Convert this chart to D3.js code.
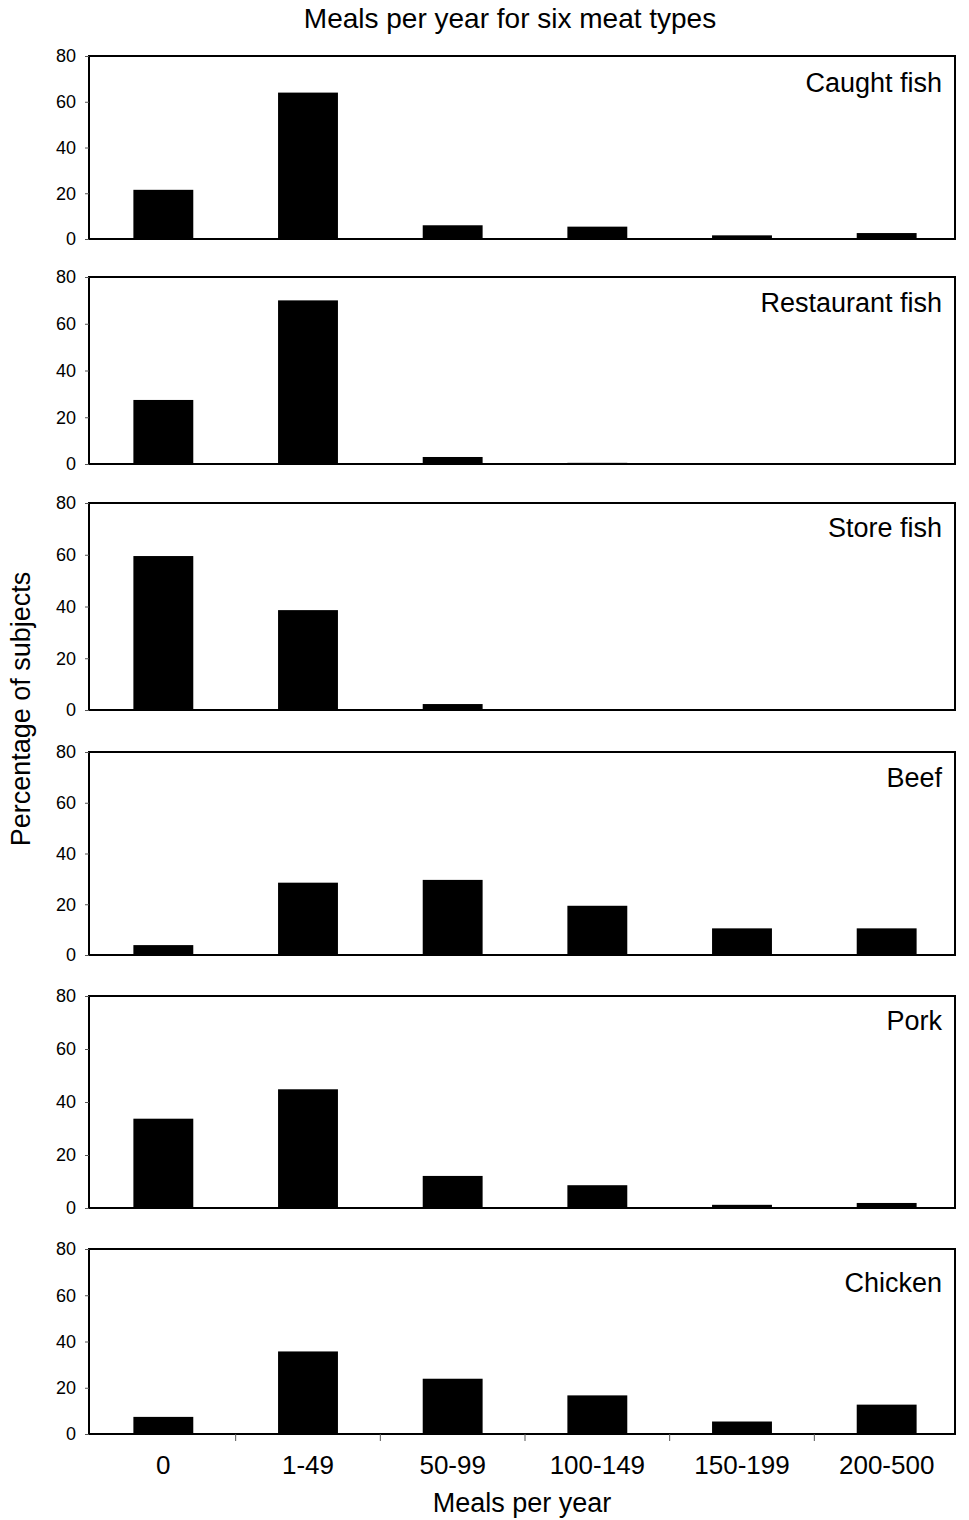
<!DOCTYPE html>
<html><head><meta charset="utf-8">
<script src="https://cdn.jsdelivr.net/npm/d3@7"></script>
<style>
body{margin:0;background:#fff}
svg{display:block}
text{font-family:"Liberation Sans",Arial,Helvetica,sans-serif;fill:#000}
</style>
</head><body>
<svg id="chart" width="969" height="1520"></svg>
<script>
// ---------- data ----------
const categories = ["0", "1-49", "50-99", "100-149", "150-199", "200-500"];
const panelNames = ["Caught fish", "Restaurant fish", "Store fish", "Beef", "Pork", "Chicken"];
const caughtFish     = [21.5, 64.0, 6.0, 5.4, 1.6, 2.6];
const restaurantFish = [27.4, 70.0, 3.0, 0.5, 0.4, 0.0];
const storeFish      = [59.5, 38.6, 2.3, 0.0, 0.0, 0.0];
const beef           = [3.9, 28.5, 29.6, 19.4, 10.5, 10.5];
const pork           = [33.7, 44.8, 12.1, 8.6, 1.2, 1.9];
const chicken        = [7.4, 35.7, 23.9, 16.7, 5.4, 12.7];
const yTicks = [0, 20, 40, 60, 80];
const seriesList = [caughtFish, restaurantFish, storeFish, beef, pork, chicken];

const titleText = "Meals per year for six meat types";
const xTitle = "Meals per year";
const yTitle = "Percentage of subjects";

// ---------- layout ----------
const panelTops    = [56, 277, 503, 752, 996, 1249];
const panelBottoms = [239, 464, 710, 955, 1208, 1434];
const labelOffsets = [36, 35, 34, 35, 34, 43];
const boxLeft = 89, boxRight = 955;

const svg = d3.select("#chart");

const x = d3.scaleBand()
  .domain(categories)
  .range([boxLeft + 2, boxRight + 4])
  .paddingInner(0.586)
  .paddingOuter(0.293);

svg.append("text")
  .attr("x", 510).attr("y", 28)
  .attr("text-anchor", "middle")
  .attr("font-size", 28)
  .text(titleText);

seriesList.forEach((vals, i) => {
  const top = panelTops[i], bottom = panelBottoms[i];
  const y = d3.scaleLinear().domain([0, 80]).range([bottom, top]);
  const g = svg.append("g");

  // bars
  g.selectAll("rect.bar")
    .data(vals.map((v, j) => ({c: categories[j], v})))
    .join("rect")
    .attr("class", "bar")
    .attr("x", d => x(d.c))
    .attr("width", x.bandwidth())
    .attr("y", d => y(d.v))
    .attr("height", d => y(0) - y(d.v))
    .attr("fill", "#000");

  // frame
  g.append("rect")
    .attr("x", boxLeft).attr("y", y(80))
    .attr("width", boxRight - boxLeft)
    .attr("height", y(0) - y(80))
    .attr("fill", "none")
    .attr("stroke", "#000")
    .attr("stroke-width", 2);

  // y axis
  const ya = g.append("g")
    .attr("transform", `translate(${boxLeft},0)`)
    .call(d3.axisLeft(y).tickValues(yTicks).tickSize(4).tickPadding(9).tickFormat(d3.format("d")));
  ya.select(".domain").remove();
  ya.selectAll(".tick line").attr("stroke", "#555");
  ya.selectAll(".tick text").attr("font-size", 18).attr("font-family", "Liberation Sans, Arial, sans-serif");

  // panel label
  g.append("text")
    .attr("x", 942)
    .attr("y", top + labelOffsets[i])
    .attr("text-anchor", "end")
    .attr("font-size", 27)
    .text(panelNames[i]);

  // x axis on the last panel
  if (i === seriesList.length - 1) {
    const xa = g.append("g")
      .attr("transform", `translate(0,${bottom})`)
      .call(d3.axisBottom(x).tickSize(0).tickPadding(22));
    xa.select(".domain").remove();
    xa.selectAll(".tick text").attr("font-size", 26).attr("font-family", "Liberation Sans, Arial, sans-serif");
    const gap = (x.step() - x.bandwidth()) / 2;
    const bounds = categories.slice(1).map(c => x(c) - gap);
    g.selectAll("line.xt")
      .data(bounds)
      .join("line")
      .attr("class", "xt")
      .attr("x1", d => d).attr("x2", d => d)
      .attr("y1", bottom).attr("y2", bottom + 7)
      .attr("stroke", "#555").attr("stroke-width", 1);
  }
});

svg.append("text")
  .attr("x", 522).attr("y", 1512)
  .attr("text-anchor", "middle")
  .attr("font-size", 27)
  .text(xTitle);

svg.append("text")
  .attr("transform", "translate(30,709) rotate(-90)")
  .attr("text-anchor", "middle")
  .attr("font-size", 27)
  .text(yTitle);
</script>
</body></html>
